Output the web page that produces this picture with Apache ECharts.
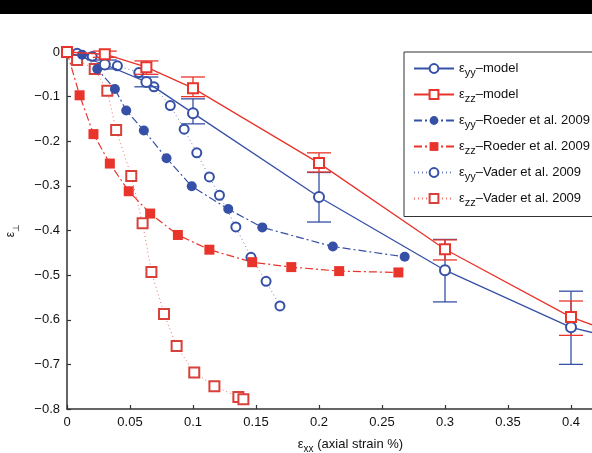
<!DOCTYPE html>
<html>
<head>
<meta charset="utf-8">
<script src="https://cdn.jsdelivr.net/npm/echarts@6/dist/echarts.min.js"></script>
<style>
  html, body { margin: 0; padding: 0; background: #fff; }
  #chart { width: 592px; height: 453px; }
</style>
</head>
<body>
<div id="chart"></div>
<script>
// Transverse strain vs axial strain: model curves with error bars and two data sets.
const xTicks = [0, 0.05, 0.1, 0.15, 0.2, 0.25, 0.3, 0.35, 0.4, 0.45];
const yTicks = [0, -0.1, -0.2, -0.3, -0.4, -0.5, -0.6, -0.7, -0.8];

// Model (solid lines, open markers)
const modelX   = [0, 0.03, 0.063, 0.1, 0.2, 0.3, 0.4, 0.45];
const modelYY  = [0, -0.028, -0.067, -0.137, -0.325, -0.489, -0.617, -0.652];
const modelZZ  = [0, -0.005, -0.034, -0.081, -0.249, -0.442, -0.594, -0.646];
// Error bars of the model: [x, low, high]
const errYY = [
  [0.03, -0.038, -0.018],
  [0.063, -0.078, -0.056],
  [0.1, -0.161, -0.105],
  [0.2, -0.381, -0.270],
  [0.3, -0.560, -0.420],
  [0.4, -0.700, -0.536]
];
const errZZ = [
  [0.03, -0.012, 0.002],
  [0.063, -0.050, -0.020],
  [0.1, -0.100, -0.056],
  [0.2, -0.269, -0.226],
  [0.3, -0.466, -0.421],
  [0.4, -0.635, -0.558]
];

// Roeder et al. 2009
const roederYYx = [0, 0.012, 0.024, 0.038, 0.047, 0.061, 0.079, 0.099, 0.128, 0.155, 0.211, 0.268];
const roederYYy = [0, -0.006, -0.038, -0.083, -0.131, -0.176, -0.238, -0.301, -0.352, -0.393, -0.436, -0.459];
const roederZZx = [0, 0.010, 0.021, 0.034, 0.049, 0.066, 0.088, 0.113, 0.147, 0.178, 0.216, 0.263];
const roederZZy = [0, -0.097, -0.184, -0.250, -0.312, -0.362, -0.410, -0.443, -0.471, -0.482, -0.491, -0.494];

// Vader et al. 2009
const vaderYYx = [0, 0.008, 0.020, 0.040, 0.057, 0.069, 0.082, 0.093, 0.103, 0.113, 0.121, 0.134, 0.146, 0.158, 0.169];
const vaderYYy = [0, -0.003, -0.010, -0.031, -0.046, -0.078, -0.120, -0.173, -0.226, -0.280, -0.321, -0.392, -0.460, -0.514, -0.569];
const vaderZZx = [0, 0.008, 0.022, 0.032, 0.039, 0.051, 0.060, 0.067, 0.077, 0.087, 0.101, 0.117, 0.136, 0.140];
const vaderZZy = [0, -0.018, -0.038, -0.087, -0.175, -0.278, -0.384, -0.493, -0.587, -0.659, -0.718, -0.749, -0.773, -0.778];

const names = [
  'εyy–model',
  'εzz–model',
  'εyy–Roeder et al. 2009',
  'εzz–Roeder et al. 2009',
  'εyy–Vader et al. 2009',
  'εzz–Vader et al. 2009'
];

const BLUE = '#3550a6';
const RED = '#e8342b';
const FONT = 'Liberation Sans, Arial, sans-serif';

const pairs = (xs, ys) => xs.map((x, i) => [x, ys[i]]);

function errorBarSeries(data, color) {
  return {
    type: 'custom',
    data: data,
    z: 3,
    silent: true,
    renderItem: function (params, api) {
      const x = api.value(0);
      const top = api.coord([x, api.value(2)]);
      const bot = api.coord([x, api.value(1)]);
      const half = 12;
      const style = { stroke: color, lineWidth: 1.3 };
      return {
        type: 'group',
        children: [
          { type: 'line', shape: { x1: top[0], y1: top[1], x2: bot[0], y2: bot[1] }, style: style },
          { type: 'line', shape: { x1: top[0] - half, y1: top[1], x2: top[0] + half, y2: top[1] }, style: style },
          { type: 'line', shape: { x1: bot[0] - half, y1: bot[1], x2: bot[0] + half, y2: bot[1] }, style: style }
        ]
      };
    }
  };
}

const chart = echarts.init(document.getElementById('chart'), null, { renderer: 'canvas' });

const richText = (size, sub) => ({
  g: { fontSize: size, fontFamily: FONT, color: '#111', verticalAlign: 'middle', lineHeight: 20 },
  s: { fontSize: sub, fontFamily: FONT, color: '#111', verticalAlign: 'bottom', lineHeight: 20 },
  t: { fontSize: 13, fontFamily: FONT, color: '#111', verticalAlign: 'middle', lineHeight: 20 }
});

const minusLabel = (v) => String(v).replace('-', '−');

chart.setOption({
  backgroundColor: '#ffffff',
  animation: false,
  textStyle: { fontFamily: FONT },
  graphic: [
    { type: 'rect', left: 0, top: 0, shape: { width: 592, height: 14 }, style: { fill: '#000' }, z: 100 }
  ],
  grid: { left: 67, top: 52, right: -42, bottom: 44, outerBoundsMode: 'none', containLabel: false },
  xAxis: {
    type: 'value',
    min: 0, max: 0.45, interval: 0.05,
    name: '{g|ε}{s|xx}{t| (axial strain %)}',
    nameLocation: 'middle',
    nameGap: 25,
    nameTextStyle: { color: '#111', rich: richText(13, 10) },
    axisLine: { onZero: false, lineStyle: { color: '#333', width: 1.5 } },
    axisTick: { inside: true, length: 4, lineStyle: { color: '#333', width: 1.2 } },
    axisLabel: { color: '#111', fontSize: 13, fontFamily: FONT, margin: 7 },
    splitLine: { show: false }
  },
  yAxis: {
    type: 'value',
    min: -0.8, max: 0, interval: 0.1,
    name: '{g|ε}{s|⊥}',
    nameLocation: 'middle',
    nameRotate: 90,
    nameGap: 46,
    nameTextStyle: { color: '#111', rich: richText(12, 9) },
    axisLine: { onZero: false, lineStyle: { color: '#333', width: 1.5 } },
    axisTick: { inside: true, length: 4, lineStyle: { color: '#333', width: 1.2 } },
    axisLabel: { color: '#111', fontSize: 13, fontFamily: FONT, margin: 7, formatter: minusLabel },
    splitLine: { show: false }
  },
  legend: {
    data: names,
    orient: 'vertical',
    left: 404,
    top: 52,
    padding: [10, 10, 8, 9],
    itemWidth: 40,
    itemHeight: 11,
    itemGap: 9.5,
    borderColor: '#333',
    borderWidth: 1,
    backgroundColor: '#fff',
    selectedMode: false,
    formatter: function (name) {
      return '{g|ε}{s|' + name.slice(1, 3) + '}{t|' + name.slice(3) + '}';
    },
    textStyle: { color: '#111', rich: richText(13, 11) }
  },
  series: [
    {
      name: names[4], type: 'line', data: pairs(vaderYYx, vaderYYy),
      symbol: 'emptyCircle', symbolSize: 9,
      lineStyle: { color: BLUE, width: 1, type: [1, 3], opacity: 0.7 },
      itemStyle: { color: BLUE, borderWidth: 1.3 }, z: 2
    },
    {
      name: names[5], type: 'line', data: pairs(vaderZZx, vaderZZy),
      symbol: 'emptyRect', symbolSize: 10,
      lineStyle: { color: RED, width: 1, type: [1, 3], opacity: 0.7 },
      itemStyle: { color: '#d8403a', borderWidth: 1.3 }, z: 2
    },
    {
      name: names[2], type: 'line', data: pairs(roederYYx, roederYYy),
      symbol: 'circle', symbolSize: 10,
      lineStyle: { color: BLUE, width: 1.2, type: [8, 3, 2, 3] },
      itemStyle: { color: BLUE }, z: 2
    },
    {
      name: names[3], type: 'line', data: pairs(roederZZx, roederZZy),
      symbol: 'rect', symbolSize: 10,
      lineStyle: { color: RED, width: 1.2, type: [8, 3, 2, 3] },
      itemStyle: { color: RED }, z: 2
    },
    errorBarSeries(errYY, BLUE),
    errorBarSeries(errZZ, RED),
    {
      name: names[0], type: 'line', data: pairs(modelX, modelYY),
      symbol: 'emptyCircle', symbolSize: 10,
      lineStyle: { color: BLUE, width: 1.3 },
      itemStyle: { color: BLUE, borderWidth: 1.3 }, z: 4
    },
    {
      name: names[1], type: 'line', data: pairs(modelX, modelZZ),
      symbol: 'emptyRect', symbolSize: 10,
      lineStyle: { color: RED, width: 1.3 },
      itemStyle: { color: RED, borderWidth: 1.3 }, z: 4
    }
  ]
});
</script>
</body>
</html>
